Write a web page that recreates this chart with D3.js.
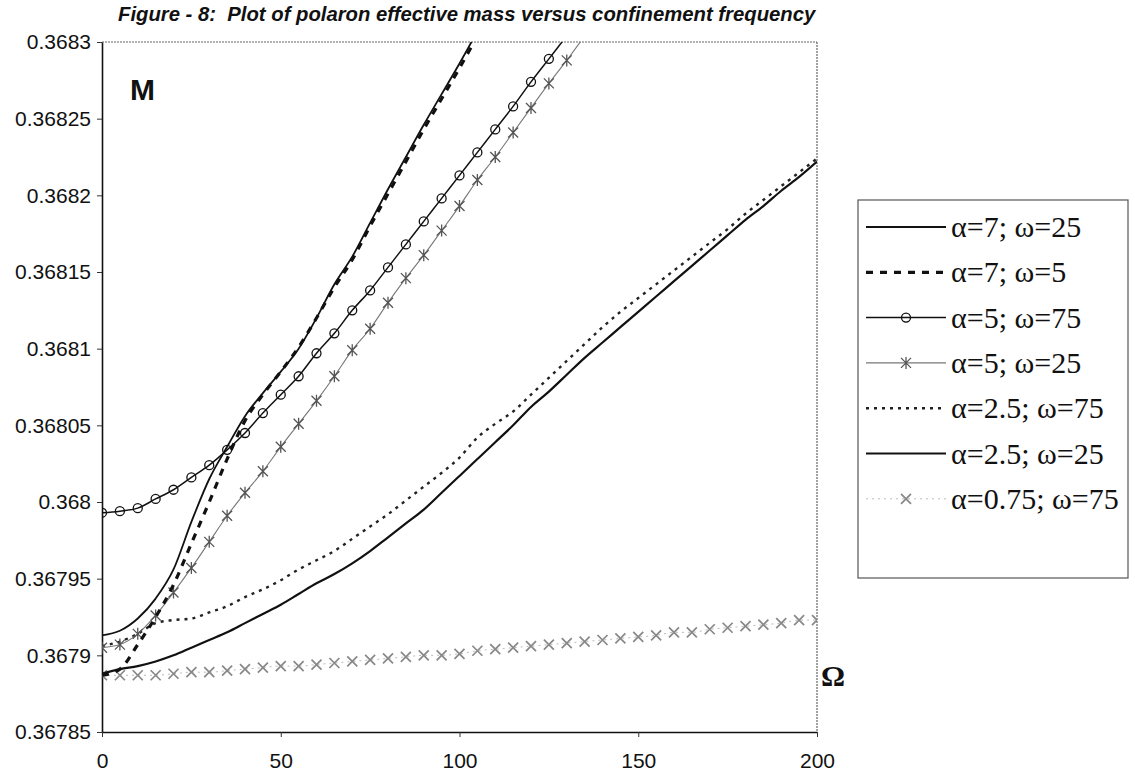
<!DOCTYPE html>
<html>
<head>
<meta charset="utf-8">
<script src="https://cdn.jsdelivr.net/npm/d3@7/dist/d3.min.js"></script>
<style>
  body { margin: 0; background: #fff; }
  svg { display: block; }
</style>
</head>
<body>
<svg id="chart" width="1135" height="779"></svg>
<script>
// confinement frequency values (x axis)
const omegaValues = [0, 5, 10, 15, 20, 25, 30, 35, 40, 45, 50, 55, 60, 65, 70, 75, 80, 85, 90, 95,
  100, 105, 110, 115, 120, 125, 130, 135, 140, 145, 150, 155, 160, 165, 170, 175, 180, 185, 190, 195, 200];

// effective mass, one array per curve
const a7w25 = [0.367913, 0.367916, 0.367924, 0.367937, 0.367956, 0.367987, 0.368015, 0.368036, 0.368056, 0.368071,
  0.368085, 0.368100, 0.368120, 0.368142, 0.368160, 0.368182, 0.368204, 0.368225, 0.368246, 0.368266, 0.368286, 0.368307];
const a7w5 = [0.367887, 0.367891, 0.367907, 0.367925, 0.367946, 0.367973, 0.368000, 0.368028, 0.368053, 0.368070,
  0.368085, 0.368101, 0.368120, 0.368140, 0.368158, 0.368180, 0.368201, 0.368222, 0.368243, 0.368263, 0.368283, 0.368304];
const a5w75 = [0.367993, 0.367994, 0.367996, 0.368002, 0.368008, 0.368016, 0.368024, 0.368034, 0.368045, 0.368058,
  0.368070, 0.368082, 0.368097, 0.368110, 0.368125, 0.368138, 0.368153, 0.368168, 0.368183, 0.368198,
  0.368213, 0.368228, 0.368243, 0.368258, 0.368274, 0.368289, 0.368304];
const a5w25 = [0.367905, 0.367907, 0.367914, 0.367926, 0.367941, 0.367957, 0.367974, 0.367991, 0.368006, 0.368020,
  0.368036, 0.368051, 0.368066, 0.368082, 0.368099, 0.368113, 0.368130, 0.368146, 0.368161, 0.368177,
  0.368193, 0.368210, 0.368225, 0.368241, 0.368257, 0.368273, 0.368288, 0.368304];
const a25w75 = [0.367906, 0.367909, 0.367914, 0.367921, 0.367923, 0.367924, 0.367928, 0.367932, 0.367938, 0.367943,
  0.367949, 0.367956, 0.367962, 0.367968, 0.367976, 0.367984, 0.367992, 0.368001, 0.368010, 0.368019,
  0.368029, 0.368042, 0.368051, 0.368059, 0.368070, 0.368081, 0.368092, 0.368103, 0.368114, 0.368124,
  0.368133, 0.368142, 0.368151, 0.368160, 0.368169, 0.368178, 0.368188, 0.368197, 0.368206, 0.368215, 0.368224];
const a25w25 = [0.367888, 0.367891, 0.367893, 0.367896, 0.367900, 0.367905, 0.367910, 0.367915, 0.367921, 0.367927,
  0.367933, 0.367940, 0.367947, 0.367953, 0.367960, 0.367968, 0.367977, 0.367986, 0.367995, 0.368006,
  0.368017, 0.368028, 0.368039, 0.368050, 0.368062, 0.368072, 0.368083, 0.368094, 0.368104, 0.368114,
  0.368124, 0.368134, 0.368144, 0.368154, 0.368164, 0.368174, 0.368184, 0.368193, 0.368203, 0.368212, 0.368222];
const a075w75 = [0.367887, 0.367887, 0.367887, 0.367887, 0.367888, 0.367889, 0.367889, 0.367890, 0.367891, 0.367892,
  0.367893, 0.367893, 0.367894, 0.367895, 0.367896, 0.367897, 0.367898, 0.367899, 0.367900, 0.367900,
  0.367901, 0.367903, 0.367904, 0.367905, 0.367906, 0.367907, 0.367908, 0.367909, 0.367910, 0.367911,
  0.367912, 0.367913, 0.367915, 0.367915, 0.367917, 0.367918, 0.367919, 0.367920, 0.367921, 0.367923, 0.367923];

const seriesNames = ["α=7; ω=25", "α=7; ω=5", "α=5; ω=75", "α=5; ω=25", "α=2.5; ω=75", "α=2.5; ω=25", "α=0.75; ω=75"];

const xTicks = [0, 50, 100, 150, 200];
const yTicks = [0.36785, 0.3679, 0.36795, 0.368, 0.36805, 0.3681, 0.36815, 0.3682, 0.36825, 0.3683];
const yTickLabels = ["0.36785", "0.3679", "0.36795", "0.368", "0.36805", "0.3681", "0.36815", "0.3682", "0.36825", "0.3683"];

const titleText = "Figure - 8:  Plot of polaron effective mass versus confinement frequency";

// line styles per series
const styles = [
  {stroke: "#111", width: 1.8, dash: null, marker: null},
  {stroke: "#111", width: 3.2, dash: "7,7", marker: null},
  {stroke: "#111", width: 1.5, dash: null, marker: "circle"},
  {stroke: "#777", width: 1.1, dash: null, marker: "star"},
  {stroke: "#222", width: 2.4, dash: "3,5", marker: null},
  {stroke: "#111", width: 2.2, dash: null, marker: null},
  {stroke: "#bbb", width: 1, dash: "2,4", marker: "x"}
];

const allSeries = [a7w25, a7w5, a5w75, a5w25, a25w75, a25w25, a075w75].map((vals, i) => ({
  name: seriesNames[i],
  style: styles[i],
  points: vals.map((v, j) => ({x: omegaValues[j], y: v}))
}));

const svg = d3.select("#chart");
const plot = {left: 102, top: 42, right: 817, bottom: 732};

const x = d3.scaleLinear().domain([0, 200]).range([plot.left, plot.right]);
const y = d3.scaleLinear().domain([0.36785, 0.3683]).range([plot.bottom, plot.top]);

svg.append("defs").append("clipPath").attr("id", "clip")
  .append("rect")
  .attr("x", plot.left).attr("y", plot.top)
  .attr("width", plot.right - plot.left).attr("height", plot.bottom - plot.top);

// title
svg.append("text")
  .attr("x", 118).attr("y", 21)
  .attr("font-family", "Liberation Sans, Arial, sans-serif")
  .attr("font-size", 20.3).attr("font-weight", "bold").attr("font-style", "italic")
  .attr("fill", "#111")
  .style("white-space", "pre")
  .text(titleText);

// frame: top and right borders
svg.append("line")
  .attr("x1", plot.left).attr("x2", plot.right).attr("y1", plot.top).attr("y2", plot.top)
  .attr("stroke", "#666").attr("stroke-width", 1.2).attr("stroke-dasharray", "2,1");
svg.append("line")
  .attr("x1", plot.right).attr("x2", plot.right).attr("y1", plot.top).attr("y2", plot.bottom)
  .attr("stroke", "#666").attr("stroke-width", 1.2).attr("stroke-dasharray", "2,1");

// axes
const yAxis = d3.axisLeft(y).tickValues(yTicks)
  .tickFormat((d, i) => yTickLabels[i]).tickSize(5).tickSizeOuter(0).tickPadding(6);
const gy = svg.append("g").attr("transform", "translate(" + plot.left + ",0)").call(yAxis);
gy.select(".domain").attr("stroke", "#111").attr("stroke-width", 1.6);
gy.selectAll(".tick line").attr("stroke", "#333");
gy.selectAll("text").attr("font-family", "Liberation Sans, Arial, sans-serif")
  .attr("font-size", 21).attr("fill", "#111");

const xAxis = d3.axisBottom(x).tickValues(xTicks).tickSize(5).tickSizeOuter(0).tickPadding(16);
const gx = svg.append("g").attr("transform", "translate(0," + plot.bottom + ")").call(xAxis);
gx.select(".domain").attr("stroke", "#111").attr("stroke-width", 1.6);
gx.selectAll(".tick line").attr("stroke", "#333");
gx.selectAll("text").attr("font-family", "Liberation Sans, Arial, sans-serif")
  .attr("font-size", 21).attr("fill", "#111");

// axis letters
svg.append("text").attr("x", 130).attr("y", 100)
  .attr("font-family", "Liberation Sans, Arial, sans-serif")
  .attr("font-size", 30).attr("font-weight", "bold").attr("fill", "#111")
  .text("M");
svg.append("text").attr("x", 821).attr("y", 686)
  .attr("font-family", "Liberation Serif, Times New Roman, serif")
  .attr("font-size", 30).attr("font-weight", "bold").attr("fill", "#111")
  .text("Ω");

// marker drawing
function drawMarker(g, type, cx, cy) {
  if (type === "circle") {
    g.append("circle").attr("cx", cx).attr("cy", cy).attr("r", 4.5)
      .attr("fill", "none").attr("stroke", "#111").attr("stroke-width", 1.3);
  } else if (type === "star") {
    const r = 5;
    g.append("path")
      .attr("d", `M${cx - r},${cy - r}L${cx + r},${cy + r}M${cx - r},${cy + r}L${cx + r},${cy - r}M${cx},${cy - r - 1}L${cx},${cy + r + 1}`)
      .attr("stroke", "#555").attr("stroke-width", 1.3).attr("fill", "none");
  } else if (type === "x") {
    const r = 5;
    g.append("path")
      .attr("d", `M${cx - r},${cy - r}L${cx + r},${cy + r}M${cx - r},${cy + r}L${cx + r},${cy - r}`)
      .attr("stroke", "#888").attr("stroke-width", 1.7).attr("fill", "none");
  }
}

const line = d3.line()
  .x(d => x(d.x)).y(d => y(d.y))
  .curve(d3.curveMonotoneX);

const plotG = svg.append("g").attr("clip-path", "url(#clip)");

// draw back to front
[6, 5, 4, 3, 2, 1, 0].forEach(i => {
  const s = allSeries[i];
  plotG.append("path")
    .datum(s.points)
    .attr("d", line)
    .attr("fill", "none")
    .attr("stroke", s.style.stroke)
    .attr("stroke-width", s.style.width)
    .attr("stroke-dasharray", s.style.dash);
  if (s.style.marker) {
    const mg = plotG.append("g");
    s.points.forEach(p => drawMarker(mg, s.style.marker, x(p.x), y(p.y)));
  }
});

// legend
const legend = svg.append("g");
legend.append("rect")
  .attr("x", 858).attr("y", 200).attr("width", 270).attr("height", 378)
  .attr("fill", "#fff").attr("stroke", "#555").attr("stroke-width", 1.2);

allSeries.forEach((s, i) => {
  const cy = 227 + i * 45.3;
  legend.append("line")
    .attr("x1", 866).attr("x2", 946).attr("y1", cy).attr("y2", cy)
    .attr("stroke", s.style.stroke)
    .attr("stroke-width", s.style.width)
    .attr("stroke-dasharray", s.style.dash);
  if (s.style.marker) drawMarker(legend, s.style.marker, 906, cy);
  legend.append("text")
    .attr("x", 951).attr("y", cy + 10)
    .attr("font-family", "Liberation Serif, Times New Roman, serif")
    .attr("font-size", 30).attr("fill", "#111")
    .text(s.name);
});
</script>
</body>
</html>
